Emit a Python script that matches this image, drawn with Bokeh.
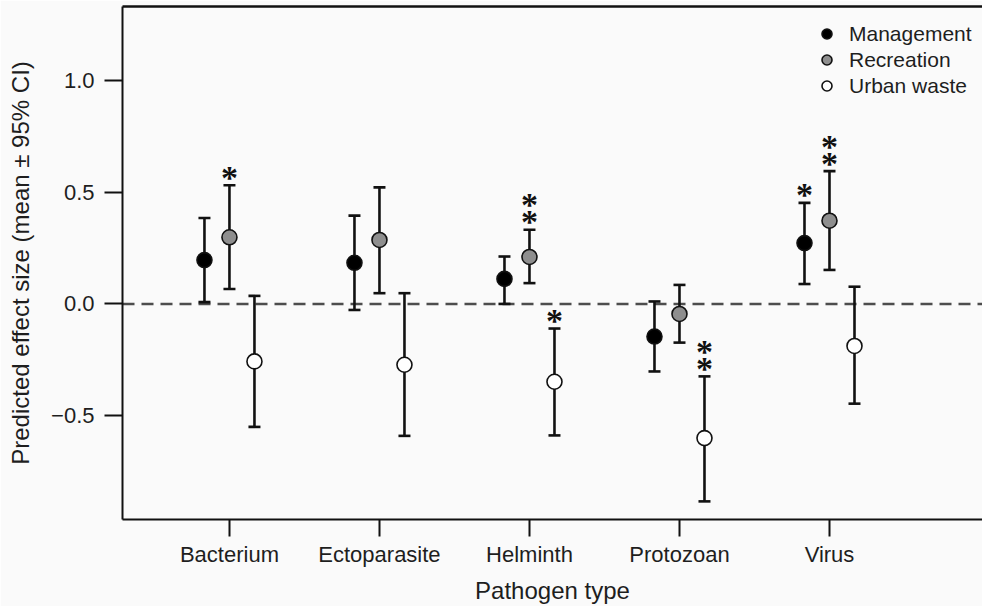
import numpy as np
from bokeh.plotting import figure
from bokeh.models import (ColumnDataSource, Whisker, TeeHead, Span, Legend, LegendItem,
                          LinearAxis, FixedTicker, Range1d)
from bokeh.embed import file_html
from bokeh.resources import INLINE

# Predicted effect sizes (mean with 95% CI) by pathogen type and driver
pathogens = ["Bacterium", "Ectoparasite", "Helminth", "Protozoan", "Virus"]
drivers = ["Management", "Recreation", "Urban waste"]

mgmt_mean = [0.196, 0.184, 0.112, -0.146, 0.272]
mgmt_lower = [0.008, -0.027, 0.000, -0.302, 0.089]
mgmt_upper = [0.384, 0.395, 0.212, 0.011, 0.452]
mgmt_stars = [0, 0, 0, 0, 1]

rec_mean = [0.298, 0.286, 0.210, -0.045, 0.372]
rec_lower = [0.067, 0.048, 0.093, -0.173, 0.152]
rec_upper = [0.531, 0.521, 0.332, 0.085, 0.594]
rec_stars = [1, 0, 2, 0, 2]

urban_mean = [-0.257, -0.272, -0.348, -0.600, -0.188]
urban_lower = [-0.550, -0.590, -0.588, -0.883, -0.446]
urban_upper = [0.036, 0.048, -0.110, -0.324, 0.077]
urban_stars = [0, 0, 1, 2, 0]

y_ticks = [-0.5, 0.0, 0.5, 1.0]
y_tick_labels = ["\u22120.5", "0.0", "0.5", "1.0"]

FONT = "Liberation Sans"
TEXT = "#1e1e1e"
INK = "#111111"

series = [
    ("Management", mgmt_mean, mgmt_lower, mgmt_upper, mgmt_stars, "#000000", -1 / 6),
    ("Recreation", rec_mean, rec_lower, rec_upper, rec_stars, "#8e8e8e", 0.0),
    ("Urban waste", urban_mean, urban_lower, urban_upper, urban_stars, "#ffffff", 1 / 6),
]

p = figure(width=982, height=606, output_backend="svg", toolbar_location=None,
           x_range=Range1d(0.287, 6.02), y_range=Range1d(-0.964, 1.330),
           min_border_left=122, min_border_right=0, min_border_top=6, min_border_bottom=86,
           x_axis_type=None, y_axis_type=None)
p.background_fill_color = "#fafafa"
p.border_fill_color = "#fafafa"
p.outline_line_color = None
p.xgrid.visible = False
p.ygrid.visible = False

# axes: left, bottom and a bare line on top (no right border)
group_x = list(range(1, len(pathogens) + 1))
xaxis = LinearAxis(ticker=FixedTicker(ticks=group_x),
                   major_label_overrides={x: name for x, name in zip(group_x, pathogens)},
                   axis_label="Pathogen type")
yaxis = LinearAxis(ticker=FixedTicker(ticks=y_ticks),
                   major_label_overrides={t: s for t, s in zip(y_ticks, y_tick_labels)},
                   axis_label="Predicted effect size (mean \u00b1 95% CI)")
for ax in (xaxis, yaxis):
    ax.axis_line_width = 2
    ax.axis_line_color = INK
    ax.major_tick_line_width = 2
    ax.major_tick_line_color = INK
    ax.major_tick_in = 0
    ax.minor_tick_line_color = None
    ax.major_label_text_font = FONT
    ax.major_label_text_font_size = "22px"
    ax.major_label_text_color = TEXT
    ax.axis_label_text_font = FONT
    ax.axis_label_text_font_size = "24px"
    ax.axis_label_text_font_style = "normal"
    ax.axis_label_text_color = TEXT
xaxis.major_tick_out = 17
xaxis.major_label_standoff = 5
xaxis.axis_label_standoff = 7
yaxis.major_tick_out = 18
yaxis.major_label_standoff = 10
yaxis.axis_label_standoff = 14
yaxis.major_label_orientation = "horizontal"
p.add_layout(xaxis, "below")
p.add_layout(yaxis, "left")

top = LinearAxis(ticker=FixedTicker(ticks=[]), major_tick_out=0, major_tick_in=0,
                 major_label_text_font_size="0px", minor_tick_line_color=None,
                 axis_line_width=2.5, axis_line_color=INK)
p.add_layout(top, "above")

# zero reference line
p.add_layout(Span(location=0, dimension="width", line_color="#4d4d4d",
                  line_width=2.5, line_dash="12 7", level="underlay"))

legend_items = []
star_x, star_y, star_off = [], [], []
for name, mean, lo, hi, stars, fill, dodge in series:
    xs = [g + dodge for g in group_x]
    src = ColumnDataSource(dict(x=xs, mean=mean, lower=lo, upper=hi))
    p.add_layout(Whisker(base="x", lower="lower", upper="upper", source=src,
                         line_width=2.6, line_color=INK, level="underlay",
                         upper_head=TeeHead(size=12, line_width=2.6, line_color=INK),
                         lower_head=TeeHead(size=12, line_width=2.6, line_color=INK)))
    r = p.scatter("x", "mean", source=src, size=15, fill_color=fill,
                  line_color=INK, line_width=1.6)
    legend_items.append(LegendItem(label=name, renderers=[r]))
    for x, u, n in zip(xs, hi, stars):
        for k in range(n):
            star_x.append(x)
            star_y.append(u)
            star_off.append(-8 - 17 * k)

# significance asterisks stacked above the upper CI limit
star_src = ColumnDataSource(dict(x=star_x, y=star_y, off=star_off, t=["*"] * len(star_x)))
p.text("x", "y", text="t", source=star_src, y_offset="off", text_align="center",
       text_baseline="alphabetic", text_font_size="34px", text_font_style="bold",
       text_color=INK, text_font=FONT)

legend = Legend(items=legend_items, location=(692, 421), orientation="vertical",
                glyph_width=25, glyph_height=25, label_height=25, spacing=1,
                label_standoff=10, padding=0, margin=0, border_line_color=None,
                background_fill_alpha=0, label_text_font=FONT,
                label_text_font_size="21px", label_text_color=TEXT)
p.add_layout(legend)

open("out.html", "w").write(file_html(p, INLINE))
